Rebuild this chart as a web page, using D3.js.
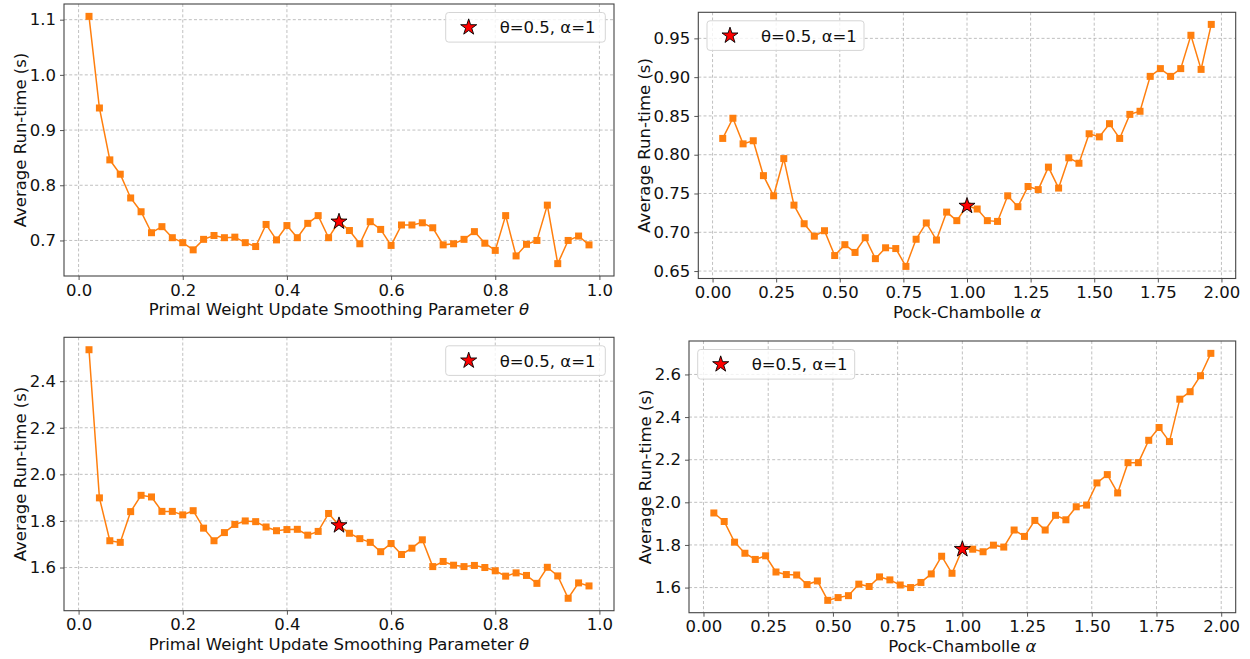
<!DOCTYPE html>
<html>
<head>
<meta charset="utf-8">
<script src="https://cdn.jsdelivr.net/npm/d3@7"></script>
<style>
  body { margin: 0; background: #fff; }
  svg { font-family: 'DejaVu Sans', sans-serif; }
</style>
</head>
<body>
<svg id="chart" width="1250" height="659"></svg>
<script>
// ---------- x values ----------
const thetas = [0.02, 0.04, 0.06, 0.08, 0.10, 0.12, 0.14, 0.16, 0.18, 0.20,
  0.22, 0.24, 0.26, 0.28, 0.30, 0.32, 0.34, 0.36, 0.38, 0.40,
  0.42, 0.44, 0.46, 0.48, 0.50, 0.52, 0.54, 0.56, 0.58, 0.60,
  0.62, 0.64, 0.66, 0.68, 0.70, 0.72, 0.74, 0.76, 0.78, 0.80,
  0.82, 0.84, 0.86, 0.88, 0.90, 0.92, 0.94, 0.96, 0.98];

const alphas = [0.04, 0.08, 0.12, 0.16, 0.20, 0.24, 0.28, 0.32, 0.36, 0.40,
  0.44, 0.48, 0.52, 0.56, 0.60, 0.64, 0.68, 0.72, 0.76, 0.80,
  0.84, 0.88, 0.92, 0.96, 1.00, 1.04, 1.08, 1.12, 1.16, 1.20,
  1.24, 1.28, 1.32, 1.36, 1.40, 1.44, 1.48, 1.52, 1.56, 1.60,
  1.64, 1.68, 1.72, 1.76, 1.80, 1.84, 1.88, 1.92, 1.96];

// ---------- run-times (s) ----------
const thetaRunTop = [1.106, 0.940, 0.846, 0.820, 0.777, 0.752, 0.714, 0.725, 0.705, 0.696,
  0.683, 0.702, 0.709, 0.705, 0.706, 0.696, 0.689, 0.729, 0.701, 0.727,
  0.705, 0.731, 0.745, 0.705, 0.734, 0.718, 0.694, 0.734, 0.720, 0.691,
  0.728, 0.728, 0.732, 0.723, 0.692, 0.694, 0.702, 0.716, 0.695, 0.682,
  0.745, 0.672, 0.693, 0.700, 0.764, 0.658, 0.700, 0.708, 0.692];

const alphaRunTop = [0.821, 0.847, 0.814, 0.818, 0.773, 0.747, 0.795, 0.735, 0.711, 0.695,
  0.702, 0.670, 0.684, 0.674, 0.693, 0.666, 0.680, 0.679, 0.656, 0.691,
  0.712, 0.690, 0.726, 0.715, 0.734, 0.730, 0.715, 0.714, 0.747, 0.733,
  0.759, 0.755, 0.784, 0.757, 0.796, 0.789, 0.827, 0.823, 0.840, 0.821,
  0.852, 0.856, 0.901, 0.911, 0.901, 0.911, 0.954, 0.910, 0.968];

const thetaRunBottom = [2.535, 1.899, 1.715, 1.708, 1.840, 1.910, 1.903, 1.841, 1.841, 1.826,
  1.844, 1.769, 1.715, 1.750, 1.785, 1.800, 1.797, 1.774, 1.758, 1.763,
  1.764, 1.739, 1.755, 1.832, 1.781, 1.747, 1.724, 1.708, 1.668, 1.703,
  1.656, 1.683, 1.719, 1.604, 1.626, 1.610, 1.604, 1.609, 1.600, 1.586,
  1.563, 1.577, 1.566, 1.532, 1.601, 1.564, 1.468, 1.534, 1.521];

const alphaRunBottom = [1.950, 1.910, 1.813, 1.761, 1.732, 1.749, 1.673, 1.661, 1.659, 1.614,
  1.631, 1.540, 1.553, 1.562, 1.616, 1.605, 1.650, 1.636, 1.612, 1.600,
  1.624, 1.664, 1.747, 1.667, 1.780, 1.780, 1.768, 1.799, 1.790, 1.870,
  1.840, 1.915, 1.870, 1.939, 1.918, 1.979, 1.987, 2.091, 2.130, 2.044,
  2.186, 2.186, 2.291, 2.351, 2.285, 2.484, 2.519, 2.594, 2.699];

// ---------- tick labels ----------
const thetaTicks = [0.0, 0.2, 0.4, 0.6, 0.8, 1.0];
const alphaTicks = [0.00, 0.25, 0.50, 0.75, 1.00, 1.25, 1.50, 1.75, 2.00];
const yTicksTopLeft = [0.7, 0.8, 0.9, 1.0, 1.1];
const yTicksTopRight = [0.65, 0.70, 0.75, 0.80, 0.85, 0.90, 0.95];
const yTicksBottomLeft = [1.6, 1.8, 2.0, 2.2, 2.4];
const yTicksBottomRight = [1.6, 1.8, 2.0, 2.2, 2.4, 2.6];

const legendText = 'θ=0.5, α=1';
const yLabel = 'Average Run-time (s)';
const thetaLabel = ['Primal Weight Update Smoothing Parameter ', 'θ'];
const alphaLabel = ['Pock-Chambolle ', 'α'];

const ORANGE = '#ff7f0e';
const SPINE = '#444';
const FONT = 16.5;

const panels = [
  { box: { left: 64, top: 4, right: 614, bottom: 276 }, xs: thetas, ys: thetaRunTop,
    xTicks: thetaTicks, xFmt: '.1f', yTicks: yTicksTopLeft, yFmt: '.1f',
    xLabel: thetaLabel, best: 0.5, legend: 'right' },
  { box: { left: 698.3, top: 12.3, right: 1235.7, bottom: 278.5 }, xs: alphas, ys: alphaRunTop,
    xTicks: alphaTicks, xFmt: '.2f', yTicks: yTicksTopRight, yFmt: '.2f',
    xLabel: alphaLabel, best: 1.0, legend: 'left' },
  { box: { left: 64, top: 337.3, right: 614, bottom: 610.7 }, xs: thetas, ys: thetaRunBottom,
    xTicks: thetaTicks, xFmt: '.1f', yTicks: yTicksBottomLeft, yFmt: '.1f',
    xLabel: thetaLabel, best: 0.5, legend: 'right' },
  { box: { left: 689, top: 341, right: 1235.7, bottom: 612.7 }, xs: alphas, ys: alphaRunBottom,
    xTicks: alphaTicks, xFmt: '.2f', yTicks: yTicksBottomRight, yFmt: '.1f',
    xLabel: alphaLabel, best: 1.0, legend: 'left' }
];

const svg = d3.select('#chart');

function padded(values) {
  const [lo, hi] = d3.extent(values);
  const m = (hi - lo) * 0.05;
  return [lo - m, hi + m];
}

const starSymbol = d3.symbol().type(d3.symbolStar).size(80);

panels.forEach(p => {
  const b = p.box;
  const data = p.xs.map((x, i) => ({ x: x, y: p.ys[i] }));

  const xScale = d3.scaleLinear().domain(padded(p.xs)).range([b.left, b.right]);
  const yScale = d3.scaleLinear().domain(padded(p.ys)).range([b.bottom, b.top]);

  const g = svg.append('g');

  /* ----------grid------------*/
  g.append('g')
    .selectAll('line')
    .data(p.xTicks)
    .enter().append('line')
    .attr('x1', d => xScale(d)).attr('x2', d => xScale(d))
    .attr('y1', b.top).attr('y2', b.bottom)
    .style('stroke', '#b0b0b0').style('stroke-width', 0.8)
    .style('stroke-dasharray', '3,2.2');

  g.append('g')
    .selectAll('line')
    .data(p.yTicks)
    .enter().append('line')
    .attr('x1', b.left).attr('x2', b.right)
    .attr('y1', d => yScale(d)).attr('y2', d => yScale(d))
    .style('stroke', '#b0b0b0').style('stroke-width', 0.8)
    .style('stroke-dasharray', '3,2.2');

  /* ----------axes------------*/
  const xAxis = g.append('g')
    .attr('transform', 'translate(0,' + b.bottom + ')')
    .call(d3.axisBottom(xScale).tickValues(p.xTicks).tickFormat(d3.format(p.xFmt))
      .tickSizeInner(4).tickSizeOuter(0).tickPadding(4));

  const yAxis = g.append('g')
    .attr('transform', 'translate(' + b.left + ',0)')
    .call(d3.axisLeft(yScale).tickValues(p.yTicks).tickFormat(d3.format(p.yFmt))
      .tickSizeInner(4).tickSizeOuter(0).tickPadding(4));

  [xAxis, yAxis].forEach(a => {
    a.select('.domain').remove();
    a.selectAll('line').style('stroke', SPINE).style('stroke-width', 0.9);
    a.selectAll('text').style('font-family', "'DejaVu Sans', sans-serif")
      .style('font-size', FONT + 'px').style('fill', '#111');
  });

  g.append('rect')
    .attr('x', b.left).attr('y', b.top)
    .attr('width', b.right - b.left).attr('height', b.bottom - b.top)
    .style('fill', 'none').style('stroke', SPINE).style('stroke-width', 1.1);

  /* ----------axis labels------------*/
  const xl = g.append('text')
    .attr('x', (b.left + b.right) / 2)
    .attr('y', b.bottom + 39)
    .style('text-anchor', 'middle')
    .style('font-size', FONT + 'px').style('fill', '#111');
  xl.append('tspan').text(p.xLabel[0]);
  xl.append('tspan').style('font-style', 'italic').text(p.xLabel[1]);

  let maxW = 0;
  yAxis.selectAll('text').each(function() { maxW = Math.max(maxW, this.getBBox().width); });
  const yx = b.left - 8 - maxW - 4;
  g.append('text')
    .attr('transform', 'translate(' + yx + ',' + ((b.top + b.bottom) / 2) + ') rotate(-90)')
    .style('text-anchor', 'middle')
    .style('font-size', FONT + 'px').style('fill', '#111')
    .text(yLabel);

  /* ----------series------------*/
  const line = d3.line().x(d => xScale(d.x)).y(d => yScale(d.y));
  g.append('path')
    .datum(data)
    .attr('d', line)
    .style('fill', 'none').style('stroke', ORANGE).style('stroke-width', 1.5);

  g.append('g')
    .selectAll('rect')
    .data(data)
    .enter().append('rect')
    .attr('x', d => xScale(d.x) - 3.5).attr('y', d => yScale(d.y) - 3.5)
    .attr('width', 7).attr('height', 7)
    .style('fill', ORANGE);

  const best = data.find(d => Math.abs(d.x - p.best) < 1e-9);
  g.append('path')
    .attr('d', starSymbol)
    .attr('transform', 'translate(' + xScale(best.x) + ',' + yScale(best.y) + ')')
    .style('fill', '#ff0000').style('stroke', '#000').style('stroke-width', 0.9);

  /* ----------legend------------*/
  const lw = p.legend === 'right' ? 159.6 : 157;
  const lh = 29.6;
  const lx = p.legend === 'right' ? b.right - 8.7 - lw : b.left + 8.7;
  const ly = b.top + 8.5;
  const lg = g.append('g').attr('transform', 'translate(' + lx + ',' + ly + ')');
  lg.append('rect')
    .attr('width', lw).attr('height', lh).attr('rx', 3).attr('ry', 3)
    .style('fill', 'rgba(255,255,255,0.8)').style('stroke', '#d5d5d5').style('stroke-width', 1);
  lg.append('path')
    .attr('d', starSymbol)
    .attr('transform', 'translate(23,' + (lh / 2) + ')')
    .style('fill', '#ff0000').style('stroke', '#000').style('stroke-width', 0.9);
  lg.append('text')
    .attr('x', 54).attr('y', lh / 2 + 6)
    .style('font-size', FONT + 'px').style('fill', '#111')
    .text(legendText);
});
</script>
</body>
</html>
